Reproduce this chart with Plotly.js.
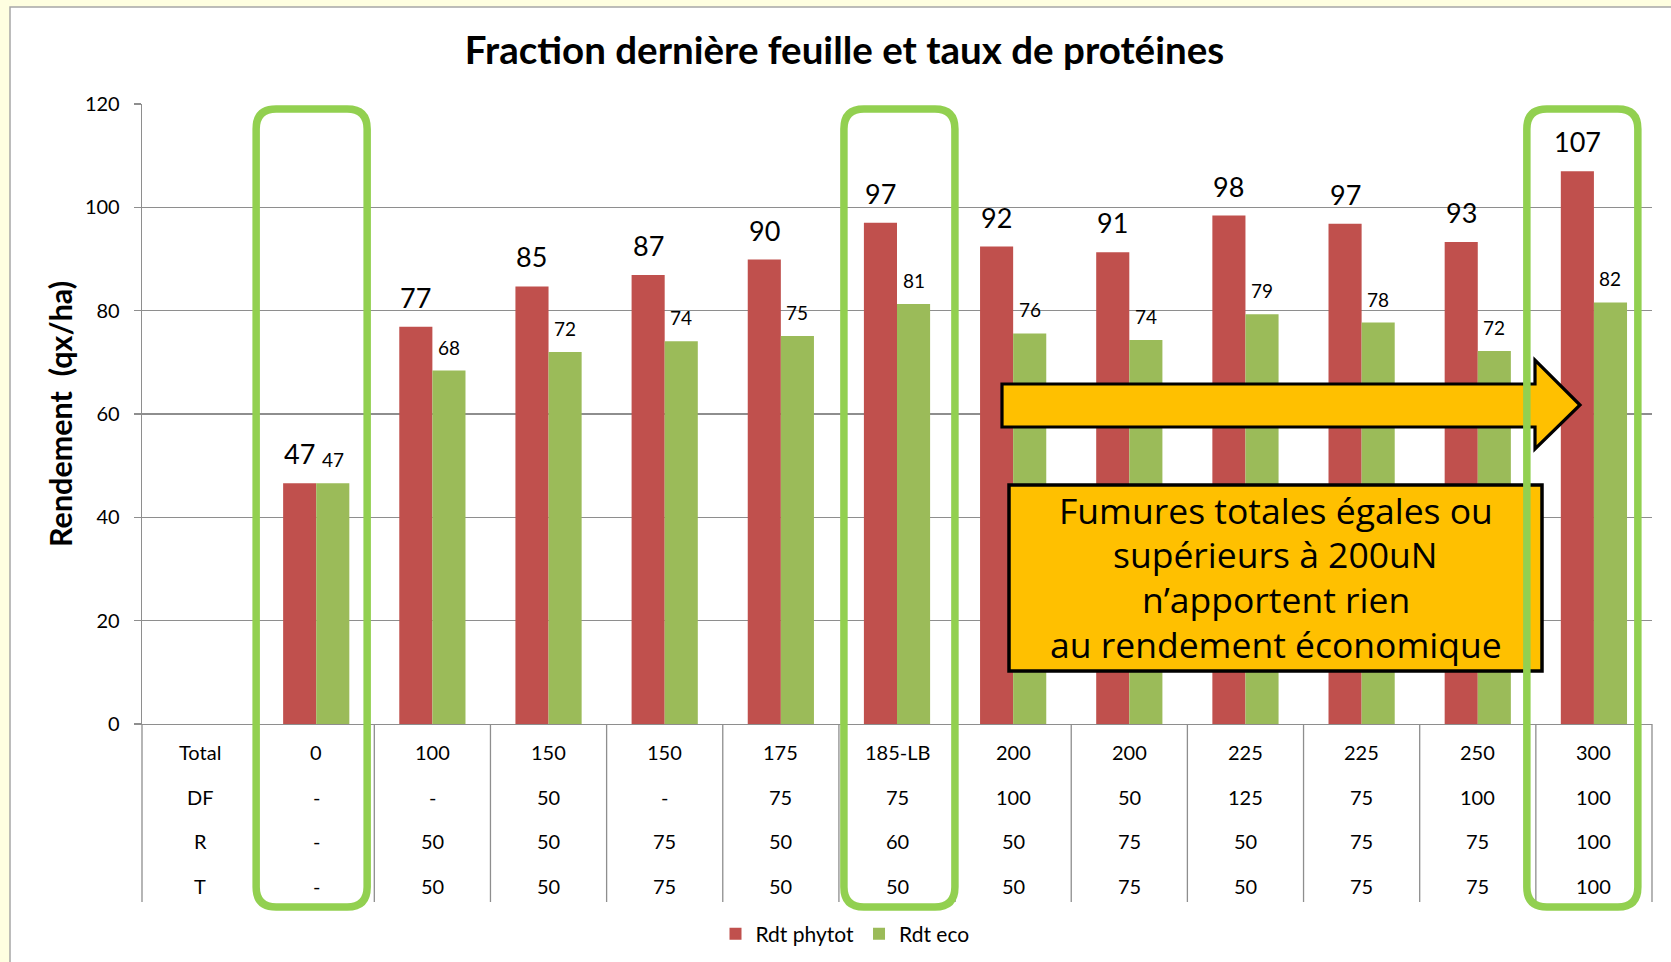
<!DOCTYPE html>
<html><head><meta charset="utf-8">
<script src="https://cdn.plot.ly/plotly-3.0.1.min.js"></script>
<style>html,body{margin:0;padding:0;background:#FEFEE0;} #chart{width:1671px;height:962px;}</style>
</head><body><div id="chart"></div>
<script>
// ---- data ----
const totals   = ['0','100','150','150','175','185-LB','200','200','225','225','250','300'];
const dfRow    = ['-','-','50','-','75','75','100','50','125','75','100','100'];
const rRow     = ['-','50','50','75','50','60','50','75','50','75','75','100'];
const tRow     = ['-','50','50','75','50','50','50','75','50','75','75','100'];
const rowLabels = ['Total','DF','R','T'];
const rdtPhytot = [46.6,76.9,84.7,86.9,89.9,97.0,92.4,91.3,98.4,96.8,93.3,107.0];
const rdtEco    = [46.6,68.4,72.0,74.1,75.1,81.3,75.6,74.3,79.3,77.7,72.2,81.6];
const highlighted = [1,6,12];
const yTicks = [0,20,40,60,80,100,120];
const boxLines = ['Fumures totales égales ou','supérieurs à 200uN','n\u2019apportent rien','au rendement économique'];

// ---- geometry (pixels) ----
const W=1671,H=962,L=142,R=1652,T=104,B=902,Y0=724;
const NCOL = totals.length + 1;
const px = x => (x-L)/(R-L);
const py = y => (B-y)/(B-T);
const domBottom = py(Y0);
const bargap = 0.43;
const off = (1-bargap)/4;
const xs = totals.map((_,i)=>i+1);
const GRID='#8E8E8E';

const traces = [
  {type:'bar', name:'Rdt phytot', x:xs, y:rdtPhytot, marker:{color:'#C0504D'}, hoverinfo:'none'},
  {type:'bar', name:'Rdt eco', x:xs, y:rdtEco, marker:{color:'#9BBB59'}, hoverinfo:'none'}
];

const ann = [];
rdtPhytot.forEach((v,i)=>ann.push({xref:'x',yref:'y',x:xs[i]-off,y:v,text:String(Math.round(v)),showarrow:false,yanchor:'middle',yshift:29.5,font:{family:'Lato',size:27,color:'#000'}}));
rdtEco.forEach((v,i)=>ann.push({xref:'x',yref:'y',x:xs[i]+off,y:v,text:String(Math.round(v)),showarrow:false,yanchor:'middle',yshift:23.5,font:{family:'Lato',size:19,color:'#000'}}));

const rowPx = [752,797,841,886];
const rows = [totals, dfRow, rRow, tRow];
rows.forEach((row,r)=>{
  ann.push({xref:'x',yref:'paper',x:0,y:py(rowPx[r]),text:rowLabels[r],showarrow:false,yanchor:'middle',font:{family:'Lato',size:20,color:'#000'}});
  row.forEach((t,i)=>ann.push({xref:'x',yref:'paper',x:xs[i],y:py(rowPx[r]),text:t,showarrow:false,yanchor:'middle',font:{family:'Lato',size:20,color:'#000'}}));
});

ann.push({xref:'paper',yref:'paper',x:px(60),y:py(414),text:'Rendement \u00A0(qx/ha)',textangle:-90,showarrow:false,xanchor:'center',yanchor:'middle',font:{family:'Lato',size:30.5,weight:700,color:'#000'}});

const boxY=[509.5,554,599,644];
boxLines.forEach((t,k)=>ann.push({xref:'paper',yref:'paper',x:px(1275.5),y:py(boxY[k]),text:t,showarrow:false,xanchor:'center',yanchor:'middle',font:{family:'Open Sans',size:35.5,color:'#000'}}));

// ---- shapes ----
const shapes = [];
shapes.push({type:'rect',xref:'paper',yref:'paper',x0:px(10),x1:px(1690),y0:py(7),y1:py(990),fillcolor:'#FFFFFF',line:{color:'#A6A6A6',width:1.5},layer:'below'});
for(let b=0;b<=NCOL;b++){
  shapes.push({type:'line',xref:'paper',yref:'paper',x0:b/NCOL,x1:b/NCOL,y0:0,y1:domBottom,line:{color:GRID,width:1.3}});
}
function P(x,y){return px(x).toFixed(5)+','+py(y).toFixed(5);}
// arrow
shapes.push({type:'path',xref:'paper',yref:'paper',
  path:'M'+P(1002,384)+' L'+P(1535,384)+' L'+P(1535,360)+' L'+P(1580,405)+' L'+P(1535,449)+' L'+P(1535,427)+' L'+P(1002,427)+' Z',
  fillcolor:'#FFC000',line:{color:'#000',width:3.2}});
// text box
shapes.push({type:'rect',xref:'paper',yref:'paper',x0:px(1009),x1:px(1542),y0:py(485),y1:py(671),fillcolor:'#FFC000',line:{color:'#000',width:3.5}});
// highlight rounded rectangles
const colW=(R-L)/NCOL;
const hlShift=[-2,5,-9];
highlighted.forEach((h,k)=>{
  const x0=L+h*colW+hlShift[k], x1=x0+111, y0=109, y1=907, r=20;
  const path='M'+P(x0+r,y0)+' L'+P(x1-r,y0)+' Q'+P(x1,y0)+' '+P(x1,y0+r)+' L'+P(x1,y1-r)+' Q'+P(x1,y1)+' '+P(x1-r,y1)+
    ' L'+P(x0+r,y1)+' Q'+P(x0,y1)+' '+P(x0,y1-r)+' L'+P(x0,y0+r)+' Q'+P(x0,y0)+' '+P(x0+r,y0)+' Z';
  shapes.push({type:'path',xref:'paper',yref:'paper',path:path,line:{color:'#92D050',width:7.5},fillcolor:'rgba(0,0,0,0)'});
});

const layout = {
  width:W,height:H,autosize:false,
  margin:{l:L,r:W-R,t:T,b:H-B,pad:0,autoexpand:false},
  paper_bgcolor:'#FEFEE0',plot_bgcolor:'#FFFFFF',
  title:{text:'Fraction dernière feuille et taux de protéines',font:{family:'Lato',size:38.5,weight:700,color:'#000'},x:844.5/W,xanchor:'center',y:1-51/H,yanchor:'middle'},
  barmode:'group',bargap:bargap,bargroupgap:0,
  xaxis:{range:[-0.5,NCOL-0.5],showticklabels:false,showgrid:false,zeroline:false,showline:true,linecolor:GRID,linewidth:1.3,ticks:'',fixedrange:true},
  yaxis:{range:[0,120],domain:[domBottom,1],tickvals:yTicks,ticks:'outside',ticklen:7,tickcolor:GRID,tickwidth:1.3,showgrid:true,gridcolor:GRID,gridwidth:1.3,showline:true,linecolor:GRID,linewidth:1.3,zeroline:false,tickfont:{family:'Lato',size:20,color:'#000'},ticklabelstandoff:10,fixedrange:true},
  showlegend:true,
  legend:{orientation:'h',x:px(845),xanchor:'center',y:py(934),yanchor:'middle',font:{family:'Lato',size:21,color:'#000'},bgcolor:'rgba(0,0,0,0)'},
  annotations:ann,shapes:shapes
};
Plotly.newPlot('chart',traces,layout,{displayModeBar:false,staticPlot:true});
</script></body></html>
